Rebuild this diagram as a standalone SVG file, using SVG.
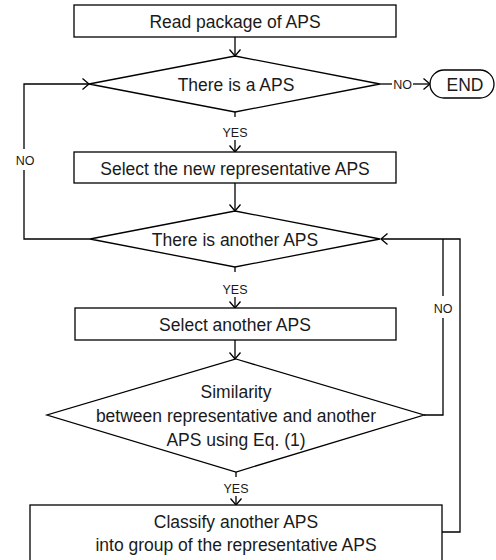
<svg xmlns="http://www.w3.org/2000/svg" width="496" height="560" viewBox="0 0 496 560">
  <style>
    .shape { fill: #ffffff; stroke: #000000; stroke-width: 1.3; }
    .wire { fill: none; stroke: #000000; stroke-width: 1.3; }
    .txt { font-family: "Liberation Sans", Arial, sans-serif; font-size: 17.5px; fill: #1a1a1a; text-anchor: middle; }
    .lbl { font-family: "Liberation Sans", Arial, sans-serif; font-size: 12.5px; fill: #1a1a1a; text-anchor: middle; }
  </style>
  <defs>
    <marker id="arrow" markerUnits="userSpaceOnUse" markerWidth="12" markerHeight="14" refX="7" refY="6" orient="auto">
      <path d="M0.5,0.5 L7,6 L0.5,11.5" fill="none" stroke="#000000" stroke-width="1.3"/>
    </marker>
  </defs>

  <rect width="496" height="560" fill="#ffffff"/>

  <!-- connectors -->
  <g id="connectors">
    <path class="wire" d="M235,37 V56" marker-end="url(#arrow)"/>
    <path class="wire" d="M380,84 H392"/>
    <path class="wire" d="M413,84 H430" marker-end="url(#arrow)"/>
    <path class="wire" d="M235,112 V117"/>
    <path class="wire" d="M235,140 V152" marker-end="url(#arrow)"/>
    <path class="wire" d="M235,183 V211" marker-end="url(#arrow)"/>
    <path class="wire" d="M90,239 H24 V170"/>
    <path class="wire" d="M24,149 V84 H89" marker-end="url(#arrow)"/>
    <path class="wire" d="M235,267 V272"/>
    <path class="wire" d="M235,297 V308" marker-end="url(#arrow)"/>
    <path class="wire" d="M235,340 V359" marker-end="url(#arrow)"/>
    <path class="wire" d="M424,415 H443 V318"/>
    <path class="wire" d="M443,296 V239"/>
    <path class="wire" d="M442,532 H460 V239 H381" marker-end="url(#arrow)"/>
    <path class="wire" d="M236,472 V477"/>
    <path class="wire" d="M236,496 V505" marker-end="url(#arrow)"/>
    <text class="lbl" x="402.5" y="89">NO</text>
    <text class="lbl" x="235" y="137">YES</text>
    <text class="lbl" x="25" y="165">NO</text>
    <text class="lbl" x="235" y="294">YES</text>
    <text class="lbl" x="443" y="313">NO</text>
    <text class="lbl" x="236" y="493">YES</text>
  </g>

  <g id="read-package">
    <rect class="shape" x="74" y="5" width="322" height="32"/>
    <text class="txt" x="235" y="28">Read package of APS</text>
  </g>

  <g id="there-is-aps">
    <polygon class="shape" points="235,56 380,84 235,112 89,84"/>
    <text class="txt" x="236" y="91">There is a APS</text>
  </g>

  <g id="end">
    <rect class="shape" x="430" y="70" width="64" height="28" rx="14" ry="14"/>
    <text class="txt" x="465" y="91">END</text>
  </g>

  <g id="select-representative">
    <rect class="shape" x="74" y="152" width="322" height="31"/>
    <text class="txt" x="235" y="175">Select the new representative APS</text>
  </g>

  <g id="there-is-another">
    <polygon class="shape" points="235,211 380,239 235,267 90,239"/>
    <text class="txt" x="235" y="246">There is another APS</text>
  </g>

  <g id="select-another">
    <rect class="shape" x="75" y="308" width="321" height="32"/>
    <text class="txt" x="235" y="331">Select another APS</text>
  </g>

  <g id="similarity">
    <polygon class="shape" points="236,359 424,415 236,472 47,415"/>
    <text class="txt" x="236" y="398">Similarity</text>
    <text class="txt" x="236" y="422">between representative and another</text>
    <text class="txt" x="236" y="446">APS using Eq. (1)</text>
  </g>

  <g id="classify">
    <rect class="shape" x="30" y="505" width="412" height="70"/>
    <text class="txt" x="236" y="528">Classify another APS</text>
    <text class="txt" x="236" y="551">into group of the representative APS</text>
  </g>
</svg>
